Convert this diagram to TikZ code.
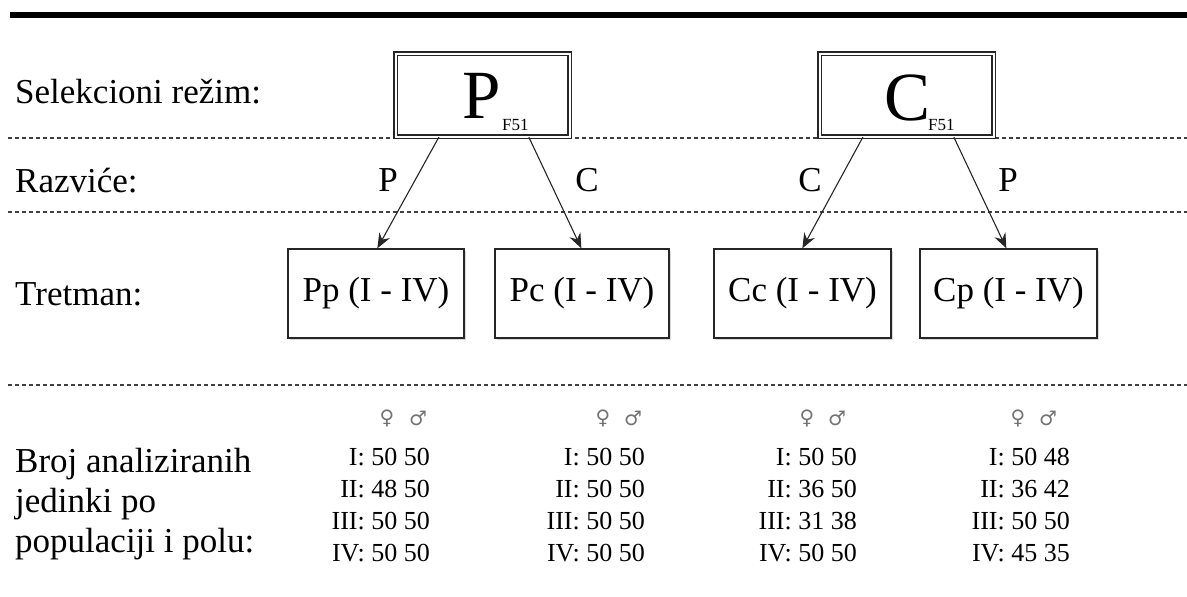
\documentclass[tikz,border=0pt]{standalone}
\usepackage{fontspec}
\setmainfont{Liberation Serif}
\newfontfamily\symfont{DejaVu Sans}
\usetikzlibrary{arrows.meta,shadows,calc}
\tikzset{
  lab/.style={anchor=base west,inner sep=0pt,font=\fontsize{35}{35}\selectfont},
  alab/.style={anchor=base,inner sep=0pt,font=\fontsize{35}{35}\selectfont},
  selbox/.style={draw=black!85,double,double distance=2pt,line width=1.3pt,minimum width=174pt,minimum height=83pt,inner sep=0pt,fill=white,
    drop shadow={shadow xshift=2pt,shadow yshift=-2pt,opacity=0.3}},
  tbox/.style={draw=black!85,line width=1.3pt,minimum height=89pt,inner sep=0pt,fill=white,
    drop shadow={shadow xshift=2pt,shadow yshift=-2pt,opacity=0.3},font=\fontsize{35}{35}\selectfont},
  big/.style={anchor=base west,inner sep=0pt,font=\fontsize{69}{69}\selectfont},
  sub/.style={anchor=base west,inner sep=0pt,font=\fontsize{17}{17}\selectfont},
  sep/.style={draw=black!75,line width=1.1pt,dash pattern=on 4pt off 3pt},
  arr/.style={-{Stealth[length=15pt,width=12pt,inset=5pt]},line width=1.1pt,black!85},
  num/.style={anchor=base east,inner sep=0pt,font=\fontsize{26}{26}\selectfont},
  sx/.style={anchor=center,inner sep=0pt,text=black!55,font=\symfont\fontsize{20}{20}\selectfont},
}
\begin{document}
\begin{tikzpicture}[x=1pt,y=-1pt]
\useasboundingbox (0,0) rectangle (1187,597);
% rules
\draw[line width=6pt] (10,15) -- (1187,15);
\draw[sep] (8,138) -- (1187,138);
\draw[sep] (8,212) -- (1187,212);
\draw[sep] (8,385) -- (1187,385);
% row labels
\node[lab] (l1) at (15,103) {Selekcioni režim:};
\node[lab] (l2) at (15,192) {Razviće:};
\node[lab] (l3) at (15,305) {Tretman:};
\node[lab] (l4) at (15,472) {Broj analiziranih};
\node[lab] (l5) at (15,512) {jedinki po};
\node[lab] (l6) at (15,552) {populaciji i polu:};
% selection boxes
\node[selbox] (P) at (482.5,95) {};
\node[big] (Pt) at (462,118) {P};
\node[sub] (Ps) at (502,130) {F51};
\node[selbox] (C) at (906.5,95) {};
\node[big] (Ct) at (884,120) {C};
\node[sub] (Cs) at (928,130) {F51};
% treatment boxes
\node[tbox,minimum width=176pt] (Pp) at (376,293.5) {Pp (I - IV)};
\node[tbox,minimum width=174pt] (Pc) at (582,293.5) {Pc (I - IV)};
\node[tbox,minimum width=177pt] (Cc) at (802.5,293.5) {Cc (I - IV)};
\node[tbox,minimum width=177pt] (Cp) at (1008.5,293.5) {Cp (I - IV)};
% arrows
\draw[arr] ([xshift=44pt]P.south west) -- ([xshift=90pt]Pp.north west);
\draw[arr] ([xshift=134pt]P.south west) -- ([xshift=87pt]Pc.north west);
\draw[arr] ([xshift=44pt]C.south west) -- ([xshift=89pt]Cc.north west);
\draw[arr] ([xshift=135pt]C.south west) -- ([xshift=87pt]Cp.north west);
\node[alab] (a1) at (388,191) {P};
\node[alab] (a2) at (587,191) {C};
\node[alab] (a3) at (810,191) {C};
\node[alab] (a4) at (1008,191) {P};
% sex symbols
\node[sx] (f1) at (387,418) {♀}; \node[sx] (m1) at (418,418) {♂};
\node[sx] (f2) at (603,418) {♀}; \node[sx] (m2) at (633,418) {♂};
\node[sx] (f3) at (807,418) {♀}; \node[sx] (m3) at (837,418) {♂};
\node[sx] (f4) at (1018,418) {♀}; \node[sx] (m4) at (1048,418) {♂};
% counts
\node[num] (n11) at (430,465) {I: 50 50};
\node[num] (n12) at (430,497) {II: 48 50};
\node[num] (n13) at (430,529) {III: 50 50};
\node[num] (n14) at (430,561) {IV: 50 50};
\node[num] (n21) at (645,465) {I: 50 50};
\node[num] (n22) at (645,497) {II: 50 50};
\node[num] (n23) at (645,529) {III: 50 50};
\node[num] (n24) at (645,561) {IV: 50 50};
\node[num] (n31) at (857,465) {I: 50 50};
\node[num] (n32) at (857,497) {II: 36 50};
\node[num] (n33) at (857,529) {III: 31 38};
\node[num] (n34) at (857,561) {IV: 50 50};
\node[num] (n41) at (1070,465) {I: 50 48};
\node[num] (n42) at (1070,497) {II: 36 42};
\node[num] (n43) at (1070,529) {III: 50 50};
\node[num] (n44) at (1070,561) {IV: 45 35};
\end{tikzpicture}
\end{document}
